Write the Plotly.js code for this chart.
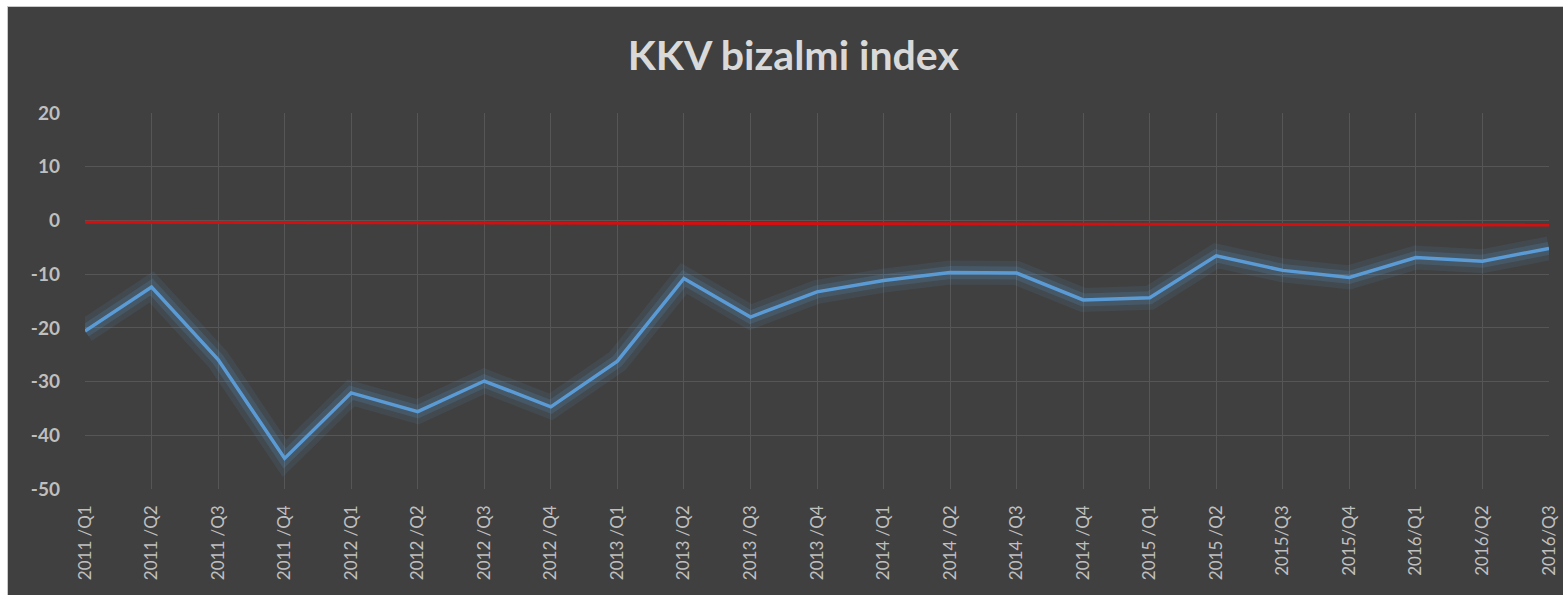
<!DOCTYPE html>
<html>
<head>
<meta charset="utf-8">
<script src="https://cdn.plot.ly/plotly-3.0.1.min.js"></script>
<style>
html,body{margin:0;padding:0;background:#ffffff;overflow:hidden;}
#chart{position:absolute;left:8px;top:7px;width:1555px;height:588px;}
#edge{position:absolute;left:7px;top:6px;width:1556px;height:589px;background:#c9c9c9;}
</style>
</head>
<body>
<div id="edge"></div>
<div id="chart"></div>
<script>
const categories = ["2011 /Q1","2011 /Q2","2011 /Q3","2011 /Q4","2012 /Q1","2012 /Q2","2012 /Q3","2012 /Q4",
  "2013 /Q1","2013 /Q2","2013 /Q3","2013 /Q4","2014 /Q1","2014 /Q2","2014 /Q3","2014 /Q4",
  "2015 /Q1","2015 /Q2","2015/Q3","2015/Q4","2016/Q1","2016/Q2","2016/Q3"];
const indexValues = [-20.6,-12.4,-25.9,-44.3,-32.1,-35.6,-29.9,-34.7,-26.2,-10.8,-18.0,-13.3,
  -11.2,-9.7,-9.8,-14.8,-14.4,-6.6,-9.3,-10.6,-6.9,-7.6,-5.2];
const referenceValues = [-0.35,-0.37,-0.4,-0.42,-0.44,-0.47,-0.49,-0.51,-0.54,-0.56,-0.58,-0.6,
  -0.63,-0.65,-0.67,-0.7,-0.72,-0.74,-0.77,-0.79,-0.81,-0.83,-0.85];
const yTicks = [20,10,0,-10,-20,-30,-40,-50];

const traces = [
  {x:categories, y:referenceValues, type:'scatter', mode:'lines',
   line:{color:'#d40f0f', width:3}, hoverinfo:'skip', showlegend:false},
  {x:categories, y:indexValues, type:'scatter', mode:'lines',
   line:{color:'rgba(91,155,213,0.10)', width:24}, hoverinfo:'skip', showlegend:false},
  {x:categories, y:indexValues, type:'scatter', mode:'lines',
   line:{color:'rgba(91,155,213,0.18)', width:13}, hoverinfo:'skip', showlegend:false},
  {x:categories, y:indexValues, type:'scatter', mode:'lines',
   line:{color:'#5b9bd5', width:3.5}, showlegend:false, name:'KKV bizalmi index'}
];

const layout = {
  width:1555, height:588,
  paper_bgcolor:'#404040', plot_bgcolor:'#404040',
  margin:{l:77, r:14, t:106, b:106},
  title:{text:'KKV bizalmi index', font:{family:'Lato, sans-serif', size:41, weight:700, color:'#d9d9d9'},
         x:0.505, xref:'container', xanchor:'center', y:0.918, yref:'container', yanchor:'middle'},
  xaxis:{type:'category', range:[0,22], showgrid:true, gridcolor:'#565656', gridwidth:1,
         tickangle:-90, ticks:'', ticklabelstandoff:12,
         tickfont:{family:'Lato, sans-serif', size:17, color:'#bfbfbf'},
         showline:false, zeroline:false, fixedrange:true},
  yaxis:{range:[-50,20], tickvals:yTicks, ticktext:yTicks.map(String), showgrid:true,
         gridcolor:'#565656', gridwidth:1, zeroline:false, showline:false, ticks:'',
         ticklabelstandoff:24,
         tickfont:{family:'Lato, sans-serif', size:19, weight:700, color:'#bfbfbf'}, fixedrange:true},
  showlegend:false
};

Plotly.newPlot('chart', traces, layout, {displayModeBar:false, staticPlot:true});
</script>
</body>
</html>
